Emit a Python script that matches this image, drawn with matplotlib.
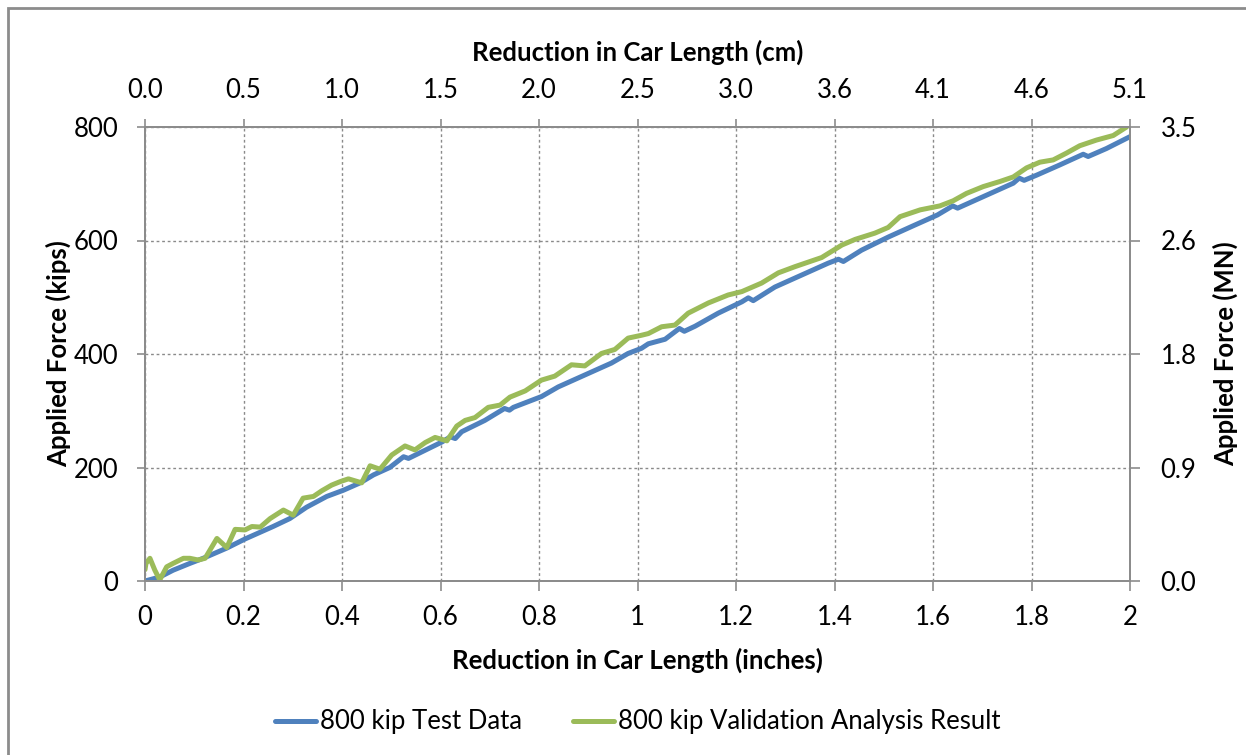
import matplotlib.pyplot as plt
from matplotlib.patches import Rectangle

# 試験データ (inches, kips)
test_x = [0, 0.03, 0.057, 0.091, 0.118, 0.166, 0.203, 0.26, 0.294, 0.328,
          0.369, 0.403, 0.437, 0.464, 0.497, 0.525, 0.535, 0.603, 0.62, 0.63,
          0.643, 0.69, 0.73, 0.74, 0.748, 0.805, 0.839, 0.893, 0.947, 0.981,
          1.008, 1.022, 1.056, 1.085, 1.095, 1.117, 1.164, 1.212, 1.225, 1.235,
          1.279, 1.333, 1.387, 1.408, 1.418, 1.455, 1.509, 1.56, 1.609, 1.64,
          1.65, 1.709, 1.763, 1.775, 1.785, 1.81, 1.857, 1.905, 1.915, 1.952, 2.0]
test_y = [0, 7, 19, 31, 40, 58, 74, 96, 110, 130,
          149, 160, 173, 187, 200, 219, 216, 245, 254, 251,
          263, 283, 304, 301, 306, 325, 342, 363, 384, 401,
          410, 418, 426, 445, 440, 449, 472, 492, 499, 494,
          518, 539, 560, 567, 563, 583, 606, 626, 645, 661,
          657, 680, 701, 710, 706, 715, 733, 752, 748, 762, 783]

# 解析結果
ana_x = [0.0, 0.002, 0.010, 0.020, 0.030, 0.044, 0.057, 0.078, 0.091, 0.108,
         0.122, 0.146, 0.166, 0.183, 0.203, 0.217, 0.234, 0.254, 0.281, 0.301,
         0.321, 0.342, 0.359, 0.379, 0.396, 0.413, 0.44, 0.457, 0.477, 0.501,
         0.528, 0.548, 0.569, 0.589, 0.613, 0.633, 0.65, 0.67, 0.697, 0.721,
         0.741, 0.772, 0.805, 0.832, 0.866, 0.893, 0.927, 0.954, 0.981, 1.008,
         1.022, 1.049, 1.076, 1.103, 1.144, 1.184, 1.212, 1.252, 1.286, 1.320,
         1.374, 1.415, 1.442, 1.482, 1.509, 1.533, 1.574, 1.614, 1.641, 1.668,
         1.702, 1.736, 1.763, 1.79, 1.817, 1.844, 1.871, 1.898, 1.932, 1.966, 1.993]
ana_y = [20, 31, 40, 19, 2, 25, 31, 40, 40, 37,
         40, 75, 59, 91, 90, 96, 95, 110, 125, 116,
         146, 149, 159, 169, 175, 180, 173, 203, 197, 222,
         238, 231, 244, 253, 247, 273, 283, 288, 306, 310,
         324, 335, 354, 361, 381, 379, 401, 408, 428, 433,
         436, 448, 451, 472, 490, 504, 510, 525, 543, 554,
         570, 592, 602, 613, 623, 642, 654, 661, 670, 683,
         695, 704, 712, 728, 738, 742, 754, 767, 777, 785, 800]

x_ticks = [0, 0.2, 0.4, 0.6, 0.8, 1, 1.2, 1.4, 1.6, 1.8, 2]
x_labels = ['0', '0.2', '0.4', '0.6', '0.8', '1', '1.2', '1.4', '1.6', '1.8', '2']
cm_labels = ['0.0', '0.5', '1.0', '1.5', '2.0', '2.5', '3.0', '3.6', '4.1', '4.6', '5.1']
y_ticks = [0, 200, 400, 600, 800]
mn_labels = ['0.0', '0.9', '1.8', '2.6', '3.5']

plt.rcParams['font.family'] = ['Lato', 'DejaVu Sans']
plt.rcParams['font.size'] = 18.5

blue = '#4F81BD'
green = '#9BBB59'
axis_gray = '#8C8C8C'

fig = plt.figure(figsize=(12.46, 7.55), dpi=100)
ax = fig.add_axes([145/1246, 1 - 581/755, 985/1246, 454/755])

ax.plot(test_x, test_y, color=blue, lw=3.6, solid_joinstyle='round',
        solid_capstyle='round', label='800 kip Test Data', zorder=3)
ax.plot(ana_x, ana_y, color=green, lw=3.6, solid_joinstyle='round',
        solid_capstyle='round', label='800 kip Validation Analysis Result', zorder=4)

ax.set_xlim(0, 2)
ax.set_ylim(0, 800)
ax.set_xticks(x_ticks)
ax.set_xticklabels(x_labels)
ax.set_yticks(y_ticks)
ax.grid(True, color='#8a8a8a', linestyle=(0, (2, 2)), lw=1)

for s in ax.spines.values():
    s.set_color(axis_gray)
    s.set_linewidth(1.3)

ax.tick_params(axis='x', direction='out', length=7, width=1.2, color=axis_gray, pad=10)
ax.tick_params(axis='y', direction='out', length=6, width=1.2, color=axis_gray, pad=13)

ax.set_xlabel('Reduction in Car Length (inches)', fontweight='bold')
ax.xaxis.set_label_coords(0.5, (581 - 660) / 454)
ax.xaxis.label.set_va('center')
ax.set_ylabel('Applied Force (kips)', fontweight='bold')
ax.yaxis.set_label_coords((58 - 145) / 985, 0.5)
ax.yaxis.label.set_va('center')
ax.yaxis.label.set_ha('center')

# 上側の cm 軸
axt = ax.twiny()
axt.set_xlim(0, 2)
axt.set_xticks(x_ticks)
axt.set_xticklabels(cm_labels)
axt.tick_params(axis='x', direction='out', length=6, width=1.2, color=axis_gray, pad=11)
axt.set_xlabel('Reduction in Car Length (cm)', fontweight='bold')
axt.xaxis.set_label_coords(0.5, (581 - 52) / 454)
axt.xaxis.label.set_va('center')

# 右側の MN 軸
axr = ax.twinx()
axr.set_ylim(0, 800)
axr.set_yticks(y_ticks)
axr.set_yticklabels(mn_labels)
axr.tick_params(axis='y', direction='out', length=7, width=1.2, color=axis_gray, pad=15)
axr.set_ylabel('Applied Force (MN)', fontweight='bold', rotation=90)
axr.yaxis.set_label_coords((1225 - 145) / 985, 0.5)
axr.yaxis.label.set_va('center')
axr.yaxis.label.set_ha('center')

for a in (axt, axr):
    for s in a.spines.values():
        s.set_color(axis_gray)
        s.set_linewidth(1.3)

ax.legend(loc='center', bbox_to_anchor=(0.5, (581 - 722) / 454), ncol=2,
          frameon=False, handlelength=1.6, handletextpad=0.15, columnspacing=2.0,
          fontsize=18.5)

# 外枠
fig.patches.append(Rectangle((8/1246, -0.05), 1.2, (755 - 8)/755 + 0.05,
                             transform=fig.transFigure, fill=False,
                             edgecolor='#8C8C8C', lw=2))

fig.savefig('out.png', dpi=100)
